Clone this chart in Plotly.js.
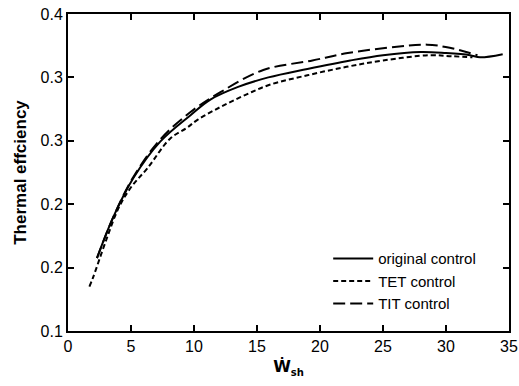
<!DOCTYPE html>
<html>
<head>
<meta charset="utf-8">
<script src="https://cdn.plot.ly/plotly-3.0.1.min.js"></script>
<style>html,body{margin:0;padding:0;background:#fff}</style>
</head>
<body>
<div id="chart" style="width:519px;height:386px"></div>
<script>
// original control
const origX = [2.3, 3.6, 5.2, 7.3, 9.7, 11.3, 13.5, 15.9, 19.0, 22.4, 25.0, 28.0, 30.0, 31.9, 32.7, 34.5];
const origY = [0.169, 0.208, 0.245, 0.279, 0.304, 0.319, 0.331, 0.340, 0.348, 0.356, 0.361, 0.364, 0.363, 0.361, 0.359, 0.362];
// TET control
const tetX = [1.7, 2.0, 3.0, 4.0, 5.0, 6.3, 8.1, 9.4, 10.3, 12.1, 14.0, 16.0, 19.0, 22.1, 25.0, 28.7, 30.5, 32.1];
const tetY = [0.142, 0.151, 0.185, 0.216, 0.236, 0.254, 0.282, 0.292, 0.300, 0.312, 0.323, 0.333, 0.342, 0.350, 0.356, 0.361, 0.360, 0.359];
// TIT control
const titX = [2.3, 3.6, 5.2, 7.3, 9.7, 12.1, 15.5, 19.4, 22.2, 26.1, 28.5, 30.3, 32.5];
const titY = [0.169, 0.208, 0.246, 0.281, 0.307, 0.326, 0.347, 0.356, 0.363, 0.369, 0.371, 0.368, 0.361];
// axis ticks
const yTickVals = [0.1, 0.16, 0.22, 0.28, 0.34, 0.4];
const yTickText = ['0.1', '0.2', '0.2', '0.3', '0.3', '0.4'];
const xTickVals = [0, 5, 10, 15, 20, 25, 30, 35];

const font = 'Liberation Sans, Arial, sans-serif';
const traces = [
  {x: origX, y: origY, name: 'original control', mode: 'lines',
   line: {color: '#000', width: 2, shape: 'spline', dash: 'solid'}},
  {x: tetX, y: tetY, name: 'TET control', mode: 'lines',
   line: {color: '#000', width: 2, shape: 'spline', dash: '5px,3px'}},
  {x: titX, y: titY, name: 'TIT control', mode: 'lines',
   line: {color: '#000', width: 2, shape: 'spline', dash: '12px,5px'}}
];
const axisCommon = {showgrid: false, zeroline: false, showline: true, linecolor: '#000', linewidth: 2,
  mirror: 'ticks', ticks: 'inside', ticklen: 6, tickwidth: 2, tickcolor: '#000',
  tickfont: {family: font, size: 16, color: '#000'}};
const layout = {
  width: 519, height: 386,
  margin: {l: 68, r: 10, t: 14, b: 55},
  paper_bgcolor: '#fff', plot_bgcolor: '#fff',
  showlegend: true,
  legend: {x: 0.59, y: 0.28, xanchor: 'left', yanchor: 'top', bgcolor: 'rgba(0,0,0,0)',
    font: {family: font, size: 15, color: '#000'}, tracegroupgap: 0, itemwidth: 40},
  xaxis: Object.assign({}, axisCommon, {range: [0, 35], tickvals: xTickVals,
    title: {text: '<b>Ẇ<sub><span style="font-size:10px">sh</span></sub></b>', font: {family: 'DejaVu Sans, Liberation Sans, sans-serif', size: 16, color: '#000'}, standoff: 7}}),
  yaxis: Object.assign({}, axisCommon, {range: [0.1, 0.4], tickvals: yTickVals, ticktext: yTickText,
    title: {text: '<b>Thermal effciency</b>', font: {family: font, size: 17, color: '#000'}, standoff: 10}})
};
Plotly.newPlot('chart', traces, layout, {displayModeBar: false, staticPlot: true});
</script>
</body>
</html>
